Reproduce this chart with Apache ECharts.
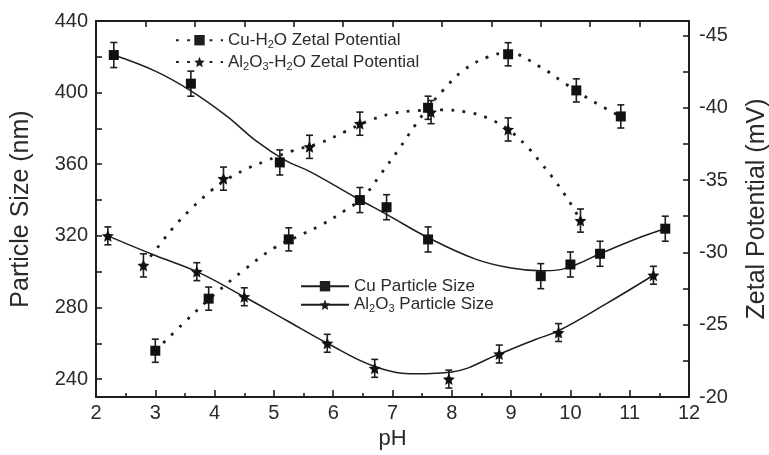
<!DOCTYPE html>
<html>
<head>
<meta charset="utf-8">
<script src="https://cdn.jsdelivr.net/npm/echarts@6/dist/echarts.min.js"></script>
<style>
  html, body { margin: 0; padding: 0; background: #fff; }
  #chart { width: 769px; height: 455px; }
</style>
</head>
<body>
<div id="chart"></div>
<script>
// Measured particle size (nm) against pH
const cuSize = [[2.3, 421], [3.6, 405], [5.1, 361], [6.45, 340], [6.9, 336], [7.6, 318], [9.5, 297.5], [10.0, 304], [10.5, 310], [11.6, 324]];
const alSize = [[2.2, 320], [3.7, 300], [4.5, 286], [5.9, 260], [6.7, 246], [7.95, 240], [8.8, 254], [9.8, 266], [11.4, 298]];

// Measured zeta potential (mV) against pH
const cuZeta = [[3.0, -23.2], [3.9, -26.8], [5.25, -30.9], [7.6, -40.0], [8.95, -43.7], [10.1, -41.2], [10.85, -39.4]];
const alZeta = [[2.8, -29.1], [4.15, -35.1], [5.6, -37.3], [6.45, -38.9], [7.65, -39.7], [8.95, -38.5], [10.17, -32.2]];

// Fitted trend curves
const cuSizeFit = [[2.3, 421], [3.0, 412], [3.6, 401], [4.2, 387], [4.7, 373], [5.2, 362], [5.6, 356], [6.4, 341], [6.9, 332], [7.6, 319], [8.4, 307], [9.0, 302], [9.5, 300.5], [9.8, 301], [10.1, 304], [10.5, 310], [11.2, 319.5], [11.6, 324]];
const alSizeFit = [[2.2, 320], [3.0, 309], [3.7, 300], [4.5, 286], [5.2, 273], [5.9, 260], [6.7, 247], [7.4, 243], [8.0, 244], [8.8, 254], [9.4, 262], [9.8, 267], [10.6, 282], [11.4, 298]];
const cuZetaFit = [[3.0, -23.2], [3.5, -25.2], [4.0, -27.1], [4.5, -28.8], [5.0, -30.3], [5.4, -31.1], [5.8, -31.9], [6.2, -32.9], [6.5, -33.8], [6.8, -35.4], [7.1, -37.1], [7.4, -38.9], [7.6, -40.0], [7.85, -41.2], [8.2, -42.6], [8.6, -43.5], [8.95, -43.8], [9.5, -42.8], [9.9, -41.7], [10.4, -40.4], [10.85, -39.4]];
const alZetaFit = [[2.8, -29.1], [3.05, -30.4], [3.3, -31.7], [3.6, -33.0], [3.95, -34.3], [4.15, -34.9], [4.5, -35.7], [4.85, -36.3], [5.3, -37.0], [5.8, -37.6], [6.2, -38.35], [6.6, -39.1], [7.0, -39.6], [7.4, -39.8], [7.85, -39.85], [8.25, -39.7], [8.6, -39.3], [8.95, -38.5], [9.25, -37.4], [9.5, -36.2], [9.75, -34.9], [10.0, -33.4], [10.17, -32.2]];

// Error bar half-widths
const cuSizeErr = 7;
const alSizeErr = 5;
const cuZetaErr = 0.8;
const alZetaErr = 0.8;

// Axis ticks and labels
const sizeLabels = [240, 280, 320, 360, 400, 440];
const sizeTicks = [240, 260, 280, 300, 320, 340, 360, 380, 400, 420, 440];
const zetaLabels = [-45, -40, -35, -30, -25, -20];
const zetaTicks = [-45, -42.5, -40, -37.5, -35, -32.5, -30, -27.5, -25, -22.5, -20];

const FONT = '"Liberation Sans", Arial, Helvetica, sans-serif';
const INK = '#1e1e1e';
const TEXT = '#2a2a2a';
// five-pointed star marker
const STAR = 'path://M50 0 L63.5 31.5 L97.55 34.55 L71.9 57.5 L79.39 90.45 L50 73 L20.61 90.45 L28.1 57.5 L2.45 34.55 L36.5 31.5 Z';

function richName(name) {
  return '{n|' + name.replace(/(\d)/g, '}{s|$1}{n|') + '}';
}
const legendRich = {
  n: { fontSize: 17, lineHeight: 20, color: TEXT, fontFamily: FONT },
  s: { fontSize: 11, lineHeight: 10, verticalAlign: 'bottom', color: TEXT, fontFamily: FONT }
};

function errorBars(points, err, yIndex) {
  return {
    type: 'custom',
    yAxisIndex: yIndex,
    silent: true,
    z: 3,
    data: points.map(p => [p[0], p[1] - err, p[1] + err]),
    encode: { x: 0, y: [1, 2] },
    renderItem(params, api) {
      const x = api.value(0);
      const lo = api.coord([x, api.value(1)]);
      const hi = api.coord([x, api.value(2)]);
      const w = 3.5;
      const st = { stroke: INK, lineWidth: 1.6 };
      return {
        type: 'group',
        children: [
          { type: 'line', shape: { x1: lo[0], y1: lo[1], x2: hi[0], y2: hi[1] }, style: st },
          { type: 'line', shape: { x1: lo[0] - w, y1: lo[1], x2: lo[0] + w, y2: lo[1] }, style: st },
          { type: 'line', shape: { x1: hi[0] - w, y1: hi[1], x2: hi[0] + w, y2: hi[1] }, style: st }
        ]
      };
    }
  };
}

function fitLine(name, data, yIndex, symbol, dotted) {
  return {
    name, type: 'line', yAxisIndex: yIndex, data,
    smooth: 0.4, showSymbol: false, symbol, symbolSize: 10,
    itemStyle: { color: INK },
    lineStyle: dotted
      ? { color: INK, width: 2.8, type: [2.8, 8.4], cap: 'butt' }
      : { color: INK, width: 1.5 },
    z: 2, silent: true
  };
}

function points(name, data, yIndex, symbol, size) {
  return {
    name, type: 'scatter', yAxisIndex: yIndex, data,
    symbol, symbolSize: size,
    itemStyle: { color: '#111', opacity: 1 },
    z: 4, silent: true
  };
}

const chart = echarts.init(document.getElementById('chart'), null, { renderer: 'canvas' });

const axisLine = { show: true, lineStyle: { color: INK, width: 2 } };
const tickStyle = { color: INK, width: 1.6 };

chart.setOption({
  animation: false,
  backgroundColor: '#fff',
  grid: { left: 96, right: 80, top: 21, bottom: 58, containLabel: false, outerBoundsMode: 'none' },
  legend: [
    {
      data: ['Cu-H2O Zetal Potential', 'Al2O3-H2O Zetal Potential'],
      orient: 'vertical', left: 175, top: 31.7, padding: 0, itemGap: 3.3,
      itemWidth: 47, itemHeight: 13, selectedMode: false,
      formatter: richName,
      textStyle: { rich: legendRich }
    },
    {
      data: ['Cu Particle Size', 'Al2O3 Particle Size'],
      orient: 'vertical', left: 300, top: 277.7, padding: 0, itemGap: 1.6,
      itemWidth: 48, itemHeight: 13, selectedMode: false,
      formatter: richName,
      textStyle: { rich: legendRich }
    }
  ],
  xAxis: [
    {
      type: 'value', position: 'bottom', min: 2, max: 12, interval: 1,
      axisLine, splitLine: { show: false },
      axisTick: { show: true, inside: true, length: 7, lineStyle: tickStyle },
      minorTick: { show: true, splitNumber: 2, length: 4, lineStyle: tickStyle },
      axisLabel: { fontSize: 20, color: TEXT, fontFamily: FONT, margin: 6 },
      name: 'pH', nameLocation: 'middle', nameGap: 26,
      nameTextStyle: { fontSize: 22, color: TEXT, fontFamily: FONT }
    },
    {
      type: 'value', position: 'top', min: 0, max: 12, interval: 1,
      axisLine, splitLine: { show: false },
      axisTick: { show: true, inside: true, length: 6, lineStyle: tickStyle },
      axisLabel: { show: false }
    }
  ],
  yAxis: [
    {
      type: 'value', position: 'left', min: 230, max: 440,
      axisLine, splitLine: { show: false },
      axisTick: { show: true, inside: true, length: 6, lineStyle: tickStyle, customValues: sizeTicks },
      axisLabel: { fontSize: 20, color: TEXT, fontFamily: FONT, margin: 8, customValues: sizeLabels },
      name: 'Particle Size (nm)', nameLocation: 'middle', nameGap: 62, nameRotate: 90,
      nameTextStyle: { fontSize: 25, color: TEXT, fontFamily: FONT }
    },
    {
      type: 'value', position: 'right', min: -46, max: -20, inverse: true,
      axisLine, splitLine: { show: false },
      axisTick: { show: true, inside: true, length: 6, lineStyle: tickStyle, customValues: zetaTicks },
      axisLabel: { fontSize: 20, color: TEXT, fontFamily: FONT, margin: 10, customValues: zetaLabels },
      name: 'Zetal Potential (mV)', nameLocation: 'middle', nameGap: 56, nameRotate: 90,
      nameTextStyle: { fontSize: 25, color: TEXT, fontFamily: FONT }
    }
  ],
  series: [
    fitLine('Cu Particle Size', cuSizeFit, 0, 'rect', false),
    fitLine('Al2O3 Particle Size', alSizeFit, 0, STAR, false),
    fitLine('Cu-H2O Zetal Potential', cuZetaFit, 1, 'rect', true),
    fitLine('Al2O3-H2O Zetal Potential', alZetaFit, 1, STAR, true),
    errorBars(cuSize, cuSizeErr, 0),
    errorBars(alSize, alSizeErr, 0),
    errorBars(cuZeta, cuZetaErr, 1),
    errorBars(alZeta, alZetaErr, 1),
    points('Cu size points', cuSize, 0, 'rect', 10),
    points('Al2O3 size points', alSize, 0, STAR, 12),
    points('Cu zeta points', cuZeta, 1, 'rect', 10),
    points('Al2O3 zeta points', alZeta, 1, STAR, 12)
  ]
});
</script>
</body>
</html>
